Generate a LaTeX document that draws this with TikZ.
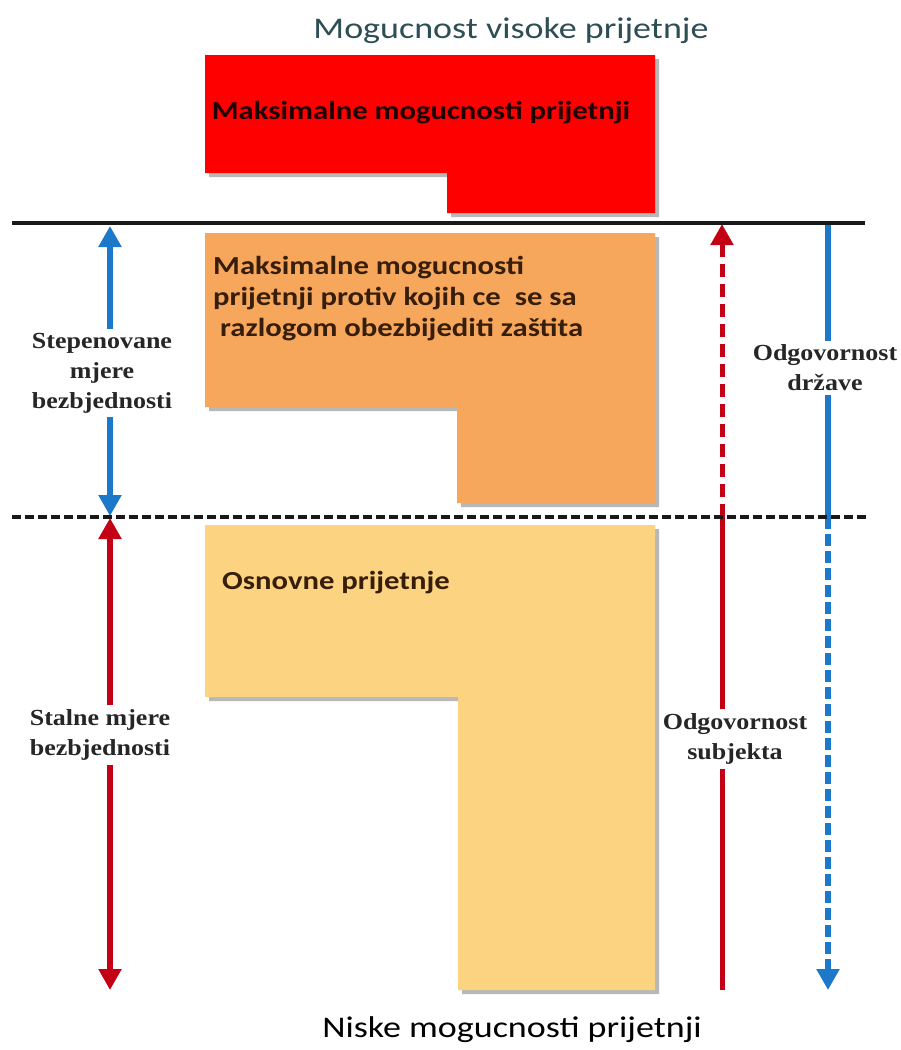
\documentclass[tikz,border=0pt]{standalone}
\usepackage{fontspec}
\setmainfont{Liberation Serif}
\newfontfamily\calfont{Carlito}
\usetikzlibrary{arrows.meta}
\definecolor{boxred}{RGB}{255,0,0}
\definecolor{boxorange}{RGB}{246,167,92}
\definecolor{boxyellow}{RGB}{252,211,128}
\definecolor{arrblue}{RGB}{28,120,200}
\definecolor{arrred}{RGB}{195,0,20}
\definecolor{titlecol}{RGB}{45,78,85}
\definecolor{boxtext}{RGB}{55,30,10}
\tikzset{
  boxshadow/.style={fill=black!55, opacity=0.5},
  sidelabel/.style={font=\bfseries\fontsize{23}{30}\selectfont, align=center, xscale=1.13, inner sep=4pt, text=black!85},
  boxlabel/.style={font=\calfont\bfseries\fontsize{26}{31}\selectfont, xscale=1.18, inner sep=0pt, text=boxtext},
  headlabel/.style={font=\calfont\fontsize{30}{32}\selectfont, xscale=1.2, inner sep=0pt},
  tip/.style={-{Triangle[length=21pt,width=22pt]}},
  bluearrow/.style={draw=arrblue, line width=5.5pt, tip, arrblue},
  redarrow/.style={draw=arrred, line width=5.5pt, tip, arrred},
  bluelinestyle/.style={draw=arrblue, line width=5.5pt},
  redlinestyle/.style={draw=arrred, line width=5pt},
  levelline/.style={line width=3.5pt, draw=black!90}
}
\begin{document}
\begin{tikzpicture}[x=1pt,y=-1pt]
\useasboundingbox (0,0) rectangle (901,1050);
\fill[white] (0,0) rectangle (901,1050);

% titles
\node[headlabel, text=titlecol] (hi) at (511,31) {Mogucnost visoke prijetnje};
\node[headlabel, text=black] (lo) at (512,1030) {Niske mogucnosti prijetnji};

% red box
\fill[boxshadow] (209,59) -- (659,59) -- (659,217) -- (451,217) -- (451,177) -- (209,177) -- cycle;
\fill[boxred] (205,55) -- (655,55) -- (655,213) -- (447,213) -- (447,173) -- (205,173) -- cycle;
\node[boxlabel, text=black!70!red!40!black] (maxthreat) at (421,113) {Maksimalne mogucnosti prijetnji};

% orange box
\fill[boxshadow] (209,237) -- (659,237) -- (659,507) -- (461,507) -- (461,411) -- (209,411) -- cycle;
\fill[boxorange] (205,233) -- (655,233) -- (655,503) -- (457,503) -- (457,407) -- (205,407) -- cycle;
\node[boxlabel, anchor=north west, align=left] (dbt) at (213,256) {Maksimalne mogucnosti\\prijetnji protiv kojih ce\ \ se sa\\\ razlogom obezbijediti zaštita};

% yellow box
\fill[boxshadow] (209,529) -- (659,529) -- (659,994) -- (462,994) -- (462,701) -- (209,701) -- cycle;
\fill[boxyellow] (205,525) -- (655,525) -- (655,990) -- (458,990) -- (458,697) -- (205,697) -- cycle;
\node[boxlabel, anchor=west] (basic) at (222,583) {Osnovne prijetnje};

% side labels
\node[sidelabel] (graded) at (102,373) {Stepenovane\\mjere\\bezbjednosti};
\node[sidelabel] (stalne) at (100,735) {Stalne mjere\\bezbjednosti};
\node[sidelabel] (state) at (825,368) {Odgovornost\\države};
\node[sidelabel] (subj) at (735,739) {Odgovornost\\subjekta};

% coordinates
\coordinate (gtop) at (110,226);
\coordinate (gbot) at (110,516);
\coordinate (stop) at (110,518);
\coordinate (sbot) at (110,990);
\coordinate (subjtop) at (722,224);
\coordinate (subjmid) at (722,517);
\coordinate (subjbot) at (722,990);
\coordinate (statetop) at (828,224);
\coordinate (statemid) at (828,517);
\coordinate (statebot) at (828,990);

% left arrows
\draw[bluearrow] (graded.north -| gtop) -- (gtop);
\draw[bluearrow] (graded.south -| gtop) -- (gbot);
\draw[redarrow] (stalne.north -| stop) -- (stop);
\draw[redarrow] (stalne.south -| stop) -- (sbot);

% responsibility of subject
\draw[redlinestyle] (subjbot) -- (subj.south -| subjbot);
\draw[redlinestyle] (subj.north -| subjbot) -- (subjmid);
\draw[redarrow, line width=5pt, dash pattern=on 13pt off 7pt] (subjmid) -- (subjtop);

% responsibility of state
\draw[bluelinestyle] (statetop) -- (state.north -| statetop);
\draw[bluelinestyle] (state.south -| statetop) -- (statemid);
\draw[bluearrow, dash pattern=on 12pt off 5pt] (statemid) -- (statebot);

% level lines
\coordinate (l1a) at (12,223);
\coordinate (l1b) at (865,223);
\coordinate (l2a) at (12,517);
\coordinate (l2b) at (868,517);
\draw[levelline] (l1a) -- (l1b);
\draw[levelline, dash pattern=on 9pt off 4pt] (l2a) -- (l2b);
\end{tikzpicture}
\end{document}
